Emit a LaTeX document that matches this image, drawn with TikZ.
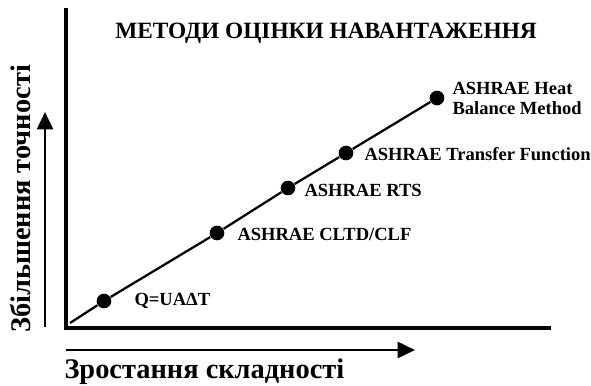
\documentclass[tikz,border=0pt]{standalone}
\usepackage{fontspec}
\setmainfont{Liberation Serif}
\usetikzlibrary{arrows.meta}

\tikzset{every picture/.style={line width=0.75pt}}
\tikzset{
  dot/.style={circle,fill=black,inner sep=0pt,minimum size=11pt},
  lbl/.style={anchor=west,inner sep=0.75pt,font=\fontsize{13.9}{15}\selectfont\bfseries},
  axl/.style={inner sep=0.75pt,font=\fontsize{21.3}{23}\selectfont\bfseries},
  bigarrow/.style={line width=2pt,-{Triangle[length=13pt,width=12pt]}}
}

\begin{document}
\begin{tikzpicture}[x=0.75pt,y=0.75pt,yscale=-1,xscale=1]
\useasboundingbox (0,0) rectangle (591,385);

%Shape: Axes
\coordinate (top) at (66,8);
\coordinate (org) at (66,328);
\coordinate (right) at (551,328);
\draw [line width=2.4pt] (top) -- (org) -- (right);

%Points
\node [dot] (p1) at (104,301) {};
\node [dot] (p2) at (217,233) {};
\node [dot] (p3) at (288,188) {};
\node [dot] (p4) at (346,153) {};
\node [dot] (p5) at (437,98) {};
\coordinate (start) at (70,323);
\draw [line width=1.7pt] (start) -- (p1) -- (p2) -- (p3) -- (p4) -- (p5);

% Text Node
\node [lbl] (l1) at (133,301) {Q=UAΔT};
% Text Node
\node [lbl] (l2) at (236,234) {ASHRAE CLTD/CLF};
% Text Node
\node [lbl] (l3) at (303,190) {ASHRAE RTS};
% Text Node
\node [lbl] (l4) at (363,154) {ASHRAE Transfer Function};
% Text Node
\node [lbl,align=left] (l5) at (451,98) {ASHRAE Heat\\Balance Method};

% Text Node
\node [inner sep=0.75pt,font=\fontsize{17.5}{19}\selectfont\bfseries] (title) at (326,33) {МЕТОДИ ОЦІНКИ НАВАНТАЖЕННЯ};

%Arrows
\coordinate (ya) at (45,327);
\coordinate (yb) at (45,112);
\draw [bigarrow] (ya) -- (yb);
\coordinate (xa) at (66,350);
\coordinate (xb) at (415,350);
\draw [bigarrow] (xa) -- (xb);

% Text Node
\node [axl,rotate=90] (ylab) at (20,199) {Збільшення точності};
% Text Node
\node [axl,anchor=west] (xlab) at (63,372) {Зростання складності};

\end{tikzpicture}
\end{document}
